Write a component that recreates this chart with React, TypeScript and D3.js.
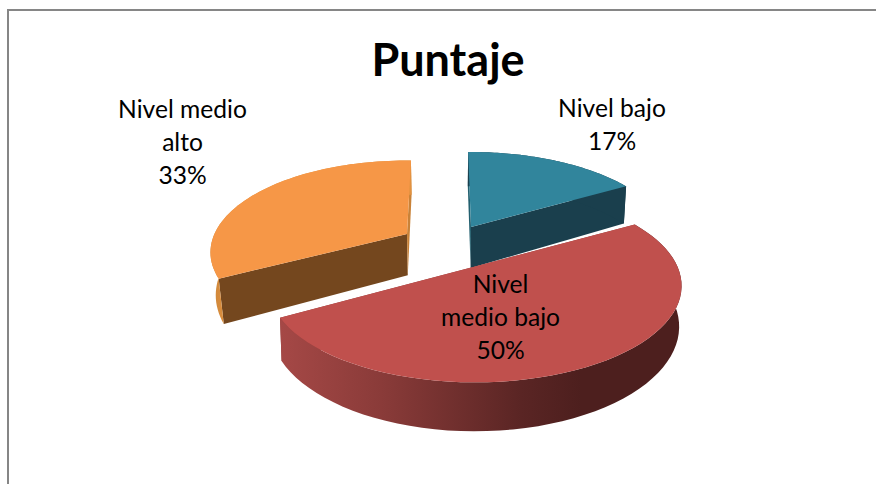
import React from "react";
import * as d3 from "d3";

const W = 876;
const H = 484;
const title = "Puntaje";
const categories = ["Nivel bajo", "Nivel medio bajo", "Nivel medio alto"];
const percentages = [17, 50, 33];
const labelLines = [["Nivel bajo", "17%"], ["Nivel", "medio bajo", "50%"], ["Nivel medio", "alto", "33%"]];

// layout of the exploded, tilted pie
const RX = 196.5, RY = 90, K = 0.2, VX = 440;
const apexes = [
  { x: 471, y: 227, s: 1, turn: 0, c: 0.988, d: 41 },
  { x: 475, y: 266.5, s: 1.03, turn: 0, c: 0.99, d: 38 },
  { x: 407, y: 234, s: 0.98, turn: 2.4, c: 0.977, d: 42 },
];
const topColors = ["#31859c", "#c0504d", "#f69747"];
const cutColors = ["#1a3f4d", "#8f3d3b", "#74471e"];
const sliverColors = ["#23606f", "#8f3d3b", "#c98238"];
const labelPos = [{ x: 612, y: 117 }, { x: 500.5, y: 293 }, { x: 182.5, y: 118 }];
const LINE_H = 32.8;

type P = [number, number];
type Ap = (typeof apexes)[number];
const project = (a: number, ap: Ap): P => {
  const u = Math.sin(a), v = Math.cos(a), w = 1 + K * v;
  return [ap.x + (ap.s * RX * u) / w, ap.y - (ap.s * RY * v) / w];
};
const drop = (p: P, a: number | null, ap: Ap): P => {
  const v = a === null ? 0 : Math.cos(a);
  return [VX + (p[0] - VX) * ap.c, p[1] + (ap.s * ap.d) / (1 + K * v)];
};
const line = d3.line<P>().x((d) => d[0]).y((d) => d[1]);

const pie = d3.pie<number>().sort(null).startAngle((-1 * Math.PI) / 180).endAngle((359 * Math.PI) / 180);
const arcs = pie(percentages);

const slices = arcs.map((arc, i) => {
  const ap = apexes[i];
  const turn = (ap.turn * Math.PI) / 180;
  const angles = d3.range(0, 61).map((k) => arc.startAngle + turn + ((arc.endAngle - arc.startAngle) * k) / 60);
  const rim = angles.map((a) => project(a, ap));
  const rimLow = angles.map((a, j) => drop(rim[j], a, ap));
  const apex: P = [ap.x, ap.y];
  const apexLow = drop(apex, null, ap);
  return { rim, rimLow, apex, apexLow, i };
});

const closed = (pts: P[]) => (line(pts) ?? "") + "Z";

function Slice({ s }: { s: (typeof slices)[number] }) {
  const { rim, rimLow, apex, apexLow, i } = s;
  const wall = [...rim, ...[...rimLow].reverse()];
  const first = rim[0], last = rim[rim.length - 1];
  const firstLow = rimLow[0], lastLow = rimLow[rimLow.length - 1];
  const fills = ["#1a3f4d", "url(#redWall)", "url(#orangeWall)"];
  return (
    <g>
      <path d={closed([apex, first, firstLow, apexLow])} fill={i === 0 ? sliverColors[0] : cutColors[i]} />
      <path d={closed([apex, last, lastLow, apexLow])} fill={i === 2 ? sliverColors[2] : cutColors[i]} />
      <path d={closed(wall)} fill={fills[i]} />
      <path d={closed([apex, ...rim])} fill={topColors[i]} />
    </g>
  );
}

export default function App() {
  return (
    <svg width={W} height={H} viewBox={`0 0 ${W} ${H}`} style={{ position: "absolute", left: 0, top: 0, background: "#fff" }}>
      <defs>
        <linearGradient id="redWall" gradientUnits="userSpaceOnUse" x1={281} x2={681} y1={0} y2={0}>
          <stop offset="0" stopColor="#a54846" />
          <stop offset="0.25" stopColor="#8a3b39" />
          <stop offset="0.6" stopColor="#5a2524" />
          <stop offset="0.75" stopColor="#4d1f1e" />
          <stop offset="1" stopColor="#4d1f1e" />
        </linearGradient>
        <linearGradient id="orangeWall" gradientUnits="userSpaceOnUse" x1={205} x2={230} y1={0} y2={0}>
          <stop offset="0" stopColor="#c58238" />
          <stop offset="1" stopColor="#e2923f" />
        </linearGradient>
      </defs>
      <path d="M876,10H8V484" fill="none" stroke="#868686" strokeWidth={2} />
      <text x={448} y={76} textAnchor="middle" fontFamily="Lato, sans-serif" fontWeight={700} fontSize={45} fill="#000">{title}</text>
      <Slice s={slices[0]} />
      <Slice s={slices[2]} />
      <Slice s={slices[1]} />
      {categories.map((c, i) => (
        <text key={c} textAnchor="middle" fontFamily="Lato, sans-serif" fontSize={24.6} fill="#000">
          {labelLines[i].map((t, j) => (
            <tspan key={j} x={labelPos[i].x} y={labelPos[i].y + j * LINE_H}>{t}</tspan>
          ))}
        </text>
      ))}
    </svg>
  );
}
